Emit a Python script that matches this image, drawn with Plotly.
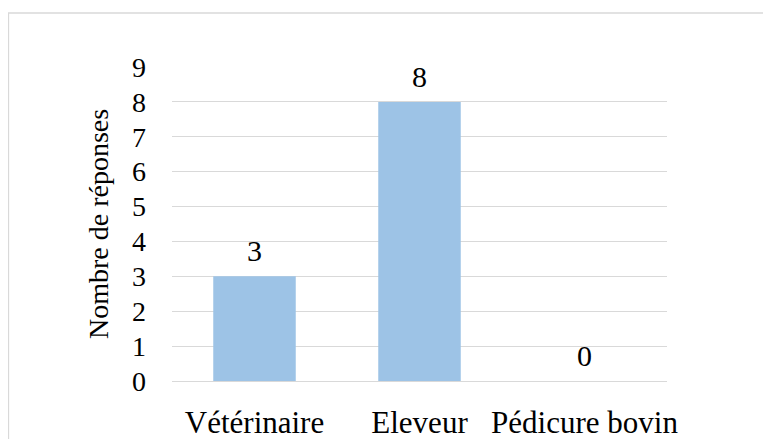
import plotly.graph_objects as go

categories = ["Vétérinaire", "Eleveur", "Pédicure bovin"]
values = [3, 8, 0]
y_ticks = list(range(0, 10))
y_title = "Nombre de réponses"

FONT = "Liberation Serif"
OFF = 8  # default body margin of the page
W, H = 771 - OFF, 439 - OFF
L, R, T, B = 172 - OFF, 104, 67 - OFF, 58
pw, ph = W - L - R, H - T - B

fig = go.Figure()
fig.add_trace(go.Bar(
    x=categories, y=values,
    marker=dict(color="#9DC3E6", line=dict(width=0)),
    hoverinfo="x+y",
))

for c, v in zip(categories, values):
    fig.add_annotation(x=c, y=v, xref="x", yref="y", text=str(v),
                       showarrow=False, yanchor="bottom", yshift=7,
                       font=dict(family=FONT, size=30, color="#000000"))

fig.add_annotation(xref="paper", yref="paper", x=(98 - 172) / pw, y=0.5,
                   text=y_title, textangle=-90, showarrow=False,
                   xanchor="center", yanchor="middle",
                   font=dict(family=FONT, size=28, color="#000000"))

# outer chart border
fig.add_shape(type="rect", xref="paper", yref="paper",
              x0=-(L - 0.5) / pw, x1=(800 - 172) / pw,
              y0=-(470 - 381) / ph, y1=(381 - 13) / ph,
              line=dict(color="#D9D9D9", width=1.3), fillcolor="rgba(0,0,0,0)",
              layer="below")

fig.update_layout(
    width=W, height=H,
    margin=dict(l=L, r=R, t=T, b=B, autoexpand=False),
    paper_bgcolor="white", plot_bgcolor="white",
    bargap=0.5,
    showlegend=False,
    font=dict(family=FONT, color="#000000"),
    xaxis=dict(showgrid=False, showline=False, zeroline=False, ticks="",
               automargin=False,
               tickfont=dict(family=FONT, size=31, color="#000000"),
               ticklabelstandoff=20),
    yaxis=dict(range=[0, 9], tickmode="array", tickvals=y_ticks,
               ticktext=[str(t) for t in y_ticks],
               automargin=False,
               showgrid=True, gridcolor="#D9D9D9", gridwidth=1.3,
               zeroline=True, zerolinecolor="#D9D9D9", zerolinewidth=1.3,
               showline=False, ticks="",
               tickfont=dict(family=FONT, size=28, color="#000000"),
               ticklabelstandoff=25),
)

fig.write_html("out.html")
